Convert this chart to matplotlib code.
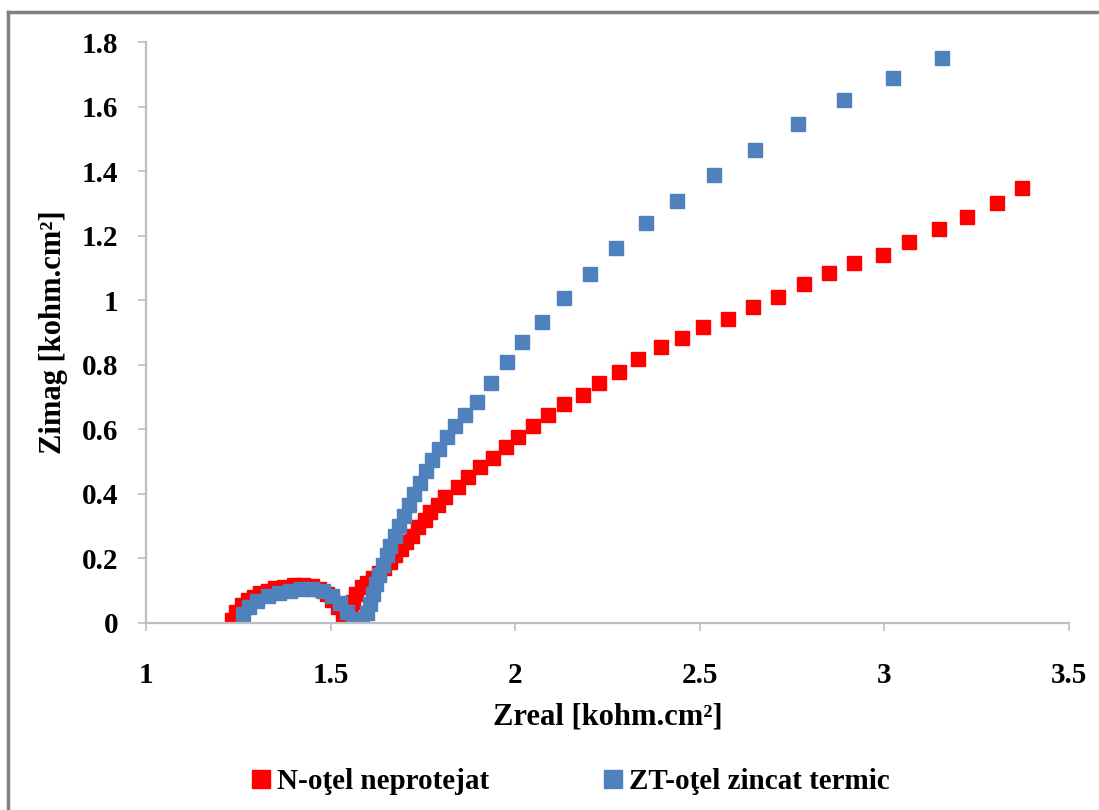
import matplotlib
matplotlib.use("Agg")
import matplotlib.pyplot as plt
from matplotlib.lines import Line2D

plt.rcParams['font.family'] = ['Liberation Serif', 'DejaVu Serif']
plt.rcParams['font.weight'] = 'bold'

# N - otel neprotejat (red)
n_zreal = [1.234, 1.245, 1.26, 1.277, 1.293, 1.31, 1.33, 1.35, 1.375, 1.40, 1.425,
           1.45, 1.47, 1.49, 1.505, 1.52, 1.535, 1.548, 1.556, 1.562, 1.568,
           1.585, 1.60, 1.615, 1.63, 1.645, 1.66, 1.675, 1.69, 1.705, 1.72, 1.738,
           1.755, 1.77, 1.79, 1.811, 1.844, 1.871, 1.906, 1.939, 1.974, 2.009,
           2.047, 2.088, 2.132, 2.183, 2.227, 2.281, 2.332, 2.395, 2.452, 2.509,
           2.577, 2.645, 2.712, 2.783, 2.851, 2.919, 2.997, 3.068, 3.149, 3.223,
           3.304, 3.374]
n_zimag = [0.010, 0.035, 0.056, 0.070, 0.082, 0.092, 0.100, 0.107, 0.113, 0.117, 0.118,
           0.114, 0.105, 0.090, 0.072, 0.050, 0.028, 0.010, 0.035, 0.065, 0.090,
           0.110, 0.125, 0.140, 0.155, 0.170, 0.190, 0.210, 0.230, 0.250, 0.270, 0.297,
           0.320, 0.345, 0.365, 0.390, 0.421, 0.452, 0.483, 0.511, 0.545, 0.576,
           0.610, 0.644, 0.678, 0.706, 0.744, 0.778, 0.818, 0.855, 0.883, 0.917,
           0.942, 0.979, 1.010, 1.050, 1.084, 1.115, 1.140, 1.180, 1.221, 1.258,
           1.301, 1.348]

# ZT - otel zincat termic (blue)
zt_zreal = [1.262, 1.28, 1.30, 1.33, 1.36, 1.39, 1.42, 1.45, 1.48, 1.505, 1.525,
            1.545, 1.56, 1.575, 1.585, 1.598, 1.606, 1.614, 1.622, 1.632, 1.642,
            1.652, 1.662, 1.674, 1.686, 1.698, 1.712, 1.726, 1.742, 1.758, 1.776,
            1.795, 1.815, 1.838, 1.865, 1.897, 1.934, 1.977, 2.018, 2.072, 2.132,
            2.202, 2.273, 2.354, 2.438, 2.539, 2.650, 2.767, 2.891, 3.024, 3.155]
zt_zimag = [0.028, 0.050, 0.068, 0.083, 0.093, 0.100, 0.104, 0.105, 0.100, 0.085, 0.062,
            0.035, 0.012, 0.005, 0.005, 0.030, 0.060, 0.090, 0.120, 0.150, 0.180,
            0.210, 0.240, 0.270, 0.300, 0.330, 0.365, 0.400, 0.435, 0.470, 0.505,
            0.540, 0.575, 0.610, 0.645, 0.685, 0.744, 0.809, 0.871, 0.933, 1.007,
            1.081, 1.162, 1.239, 1.307, 1.388, 1.466, 1.546, 1.620, 1.688, 1.750]

x_ticks = [1, 1.5, 2, 2.5, 3, 3.5]
x_labels = ['1', '1.5', '2', '2.5', '3', '3.5']
y_ticks = [0, 0.2, 0.4, 0.6, 0.8, 1, 1.2, 1.4, 1.6, 1.8]
y_labels = ['0', '0.2', '0.4', '0.6', '0.8', '1', '1.2', '1.4', '1.6', '1.8']

RED = '#FF0000'
BLUE = '#4F81BD'
AXIS_GRAY = '#BFBFBF'

fig = plt.figure(figsize=(10.99, 8.10), dpi=100)
ax = fig.add_axes([0.1328, 0.2309, 0.8399, 0.7172])

ax.plot(n_zreal, n_zimag, linestyle='none', marker='s', markersize=10.5,
        color=RED, label='N-oţel neprotejat')
ax.plot(zt_zreal, zt_zimag, linestyle='none', marker='s', markersize=10.5,
        color=BLUE, label='ZT-oţel zincat termic')

ax.set_xlim(1, 3.5)
ax.set_ylim(0, 1.8)
ax.set_xticks(x_ticks)
ax.set_xticklabels(x_labels)
ax.set_yticks(y_ticks)
ax.set_yticklabels(y_labels)

for side in ['top', 'right']:
    ax.spines[side].set_visible(False)
for side in ['left', 'bottom']:
    ax.spines[side].set_color(AXIS_GRAY)
    ax.spines[side].set_linewidth(1.6)
ax.tick_params(axis='both', direction='out', length=6, width=1.2, color=AXIS_GRAY,
               labelsize=21)
ax.tick_params(axis='x', pad=22)
ax.tick_params(axis='y', pad=14)

ax.set_xlabel('Zreal [kohm.cm²]', fontsize=22, fontweight='bold', labelpad=10)
ax.set_ylabel('Zimag [kohm.cm²]', fontsize=22, fontweight='bold', labelpad=10)

fig.legend(loc='center', bbox_to_anchor=(0.52, 0.035), ncol=2, frameon=False,
           fontsize=21, handlelength=0.5, handletextpad=0.3, columnspacing=4.0,
           markerscale=1.25)

# outer chart frame (top and left edges visible in the crop)
fig.add_artist(Line2D([0.007, 0.007], [0, 0.985], transform=fig.transFigure,
                      color='#808080', linewidth=2.5))
fig.add_artist(Line2D([0.007, 1.0], [0.985, 0.985], transform=fig.transFigure,
                      color='#808080', linewidth=2.5))

fig.savefig('out.png', dpi=100)
